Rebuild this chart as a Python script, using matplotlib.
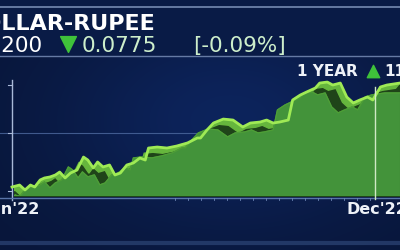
import numpy as np
import matplotlib
matplotlib.use("Agg")
from matplotlib import pyplot as plt
from matplotlib.patches import Rectangle

# USD/INR over 2022 (days from 1 Jan, rupees)
days = [0, 7, 12, 17, 21, 26, 30, 35, 40, 44, 49, 54, 60, 66, 70, 75, 79, 84, 90, 95,
        100, 106, 112, 118, 123, 126, 134, 143, 152, 162, 171, 174, 180, 186, 195, 204,
        213, 220, 229, 235, 241, 247, 255, 259, 266, 272, 280, 284, 291, 296, 303, 309,
        315, 321, 328, 333, 340, 346, 352, 358]
rate = [74.30, 74.46, 74.06, 74.46, 74.30, 74.87, 75.03, 75.11, 75.27, 75.51, 75.03,
        75.43, 75.67, 76.72, 76.48, 75.84, 76.32, 75.92, 76.08, 75.27, 75.43, 76.08,
        76.24, 76.64, 76.48, 77.45, 77.53, 77.45, 77.61, 77.86, 78.26, 78.26, 78.91,
        79.47, 79.79, 79.71, 79.15, 79.47, 79.55, 79.71, 79.47, 79.55, 79.71, 81.33,
        81.73, 81.98, 82.30, 82.70, 82.78, 82.54, 82.70, 81.57, 81.09, 81.33, 81.57,
        81.33, 82.38, 82.54, 82.62, 82.70]
title = "DOLLAR-RUPEE"
price = "82.7200"
change = "0.0775"
change_pct = "[-0.09%]"
period = "1 YEAR"
period_chg = "11.33%"
x_labels = ["Jan'22", "Dec'22"]
y_ticks = [73.98, 78.66, 82.54]

plt.rcParams['font.family'] = ['DejaVu Sans']

fig = plt.figure(figsize=(4, 2.5), dpi=100)
# background in pixel space
bg = fig.add_axes([0, 0, 1, 1])
bg.set_xlim(0, 400)
bg.set_ylim(250, 0)
bg.axis('off')
yy, xx = np.mgrid[0:250, 0:400]
grad = 0.55 + 0.45 * np.exp(-((xx - 230) ** 2 / 30000 + (yy - 120) ** 2 / 12000))
grad[yy < 57] = 0.72
col = np.stack([0.04 * grad + 0.01, 0.12 * grad + 0.02, 0.30 * grad + 0.06], axis=-1)
bg.imshow(col, extent=[0, 400, 250, 0], aspect='auto', zorder=0)
bg.plot([0, 400], [7, 7], color='#8fa6cc', lw=1.2, alpha=0.8)
bg.plot([0, 400], [56, 56], color='#7d93bd', lw=1.0, alpha=0.8)
bg.plot([0, 400], [243, 243], color='#2e4677', lw=3, alpha=0.7)

# header
bg.text(155, 30, title, color='white', fontsize=16, fontweight='bold', ha='right', va='baseline')
bg.text(43, 52, price, color='white', fontsize=15.5, ha='right', va='baseline')
bg.scatter([68], [44], marker='v', s=130, color='#3fc23a', zorder=5)
bg.text(82, 52, change, color='#cdeecb', fontsize=15.5, ha='left', va='baseline')
bg.text(193, 52, change_pct, color='#cdeecb', fontsize=15.5, ha='left', va='baseline')

# chart axes lined up with the picture
ax = fig.add_axes([0, 0, 1, 1])
ax.patch.set_alpha(0)
ax.set_xlim(-11.07, 358.1)
ax.set_ylim(69.21, 89.41)
ax.axis('off')
base = 73.57
d = np.array(days, dtype=float)
r = np.array(rate)

ax.plot([-11.07, 358.1], [78.66, 78.66], color='#4e6aa0', lw=0.8, alpha=0.8)
ax.plot([0, 0], [73.25, 82.95], color='#a9b9d8', lw=1.0)
for t in y_ticks:
    ax.plot([-3.5, 0], [t, t], color='#a9b9d8', lw=0.8)
ax.plot([-11.07, 358.1], [73.4, 73.4], color='#5873a8', lw=1.0)
for t in range(150, 340, 12):
    ax.plot([t, t], [73.25, 73.45], color='#6d86b6', lw=0.6)

clip = Rectangle((2, base), 400, 20, transform=ax.transData)
# extruded ribbon look: dark back face, light top band, mid-green front face
back = ax.fill_between(d, base, r, color='#1f4419', zorder=2)
fx = np.append(d - 14, d[-1])
fy = np.append(r - 0.8, r[-1] - 0.8)
band_x = np.concatenate([d, (d - 4)[::-1]])
band_y = np.concatenate([r, (r - 0.42)[::-1]])
band = ax.fill(band_x, band_y, color='#66b63d', zorder=3)[0]
front = ax.fill_between(fx, base, fy, color='#43933a', zorder=4)
front_edge = ax.plot(fx, fy, color='#4f9f36', lw=0.8, zorder=4)[0]
for p in (back, band, front, front_edge):
    p.set_clip_path(clip)
ax.plot(d, r, color='#9fea55', lw=2.0, zorder=5)

# cursor line and labels
ax.plot([335, 335], [73.3, 82.4], color='#cfe9c4', lw=1.0, zorder=6)
bg.text(40, 214, x_labels[0], color='#eef2f8', fontsize=11.5, fontweight='bold',
        ha='right', va='baseline', zorder=7)
bg.text(347, 214, x_labels[1], color='#eef2f8', fontsize=11.5, fontweight='bold',
        ha='left', va='baseline', zorder=7)

bg.text(358, 76, period, color='#eef2f8', fontsize=11, fontweight='bold', ha='right', va='baseline')
bg.scatter([373], [71], marker='^', s=80, color='#3fc23a', zorder=5)
bg.text(384, 76, period_chg, color='#eef2f8', fontsize=11, fontweight='bold', ha='left', va='baseline')

fig.savefig("out.png", dpi=100)
